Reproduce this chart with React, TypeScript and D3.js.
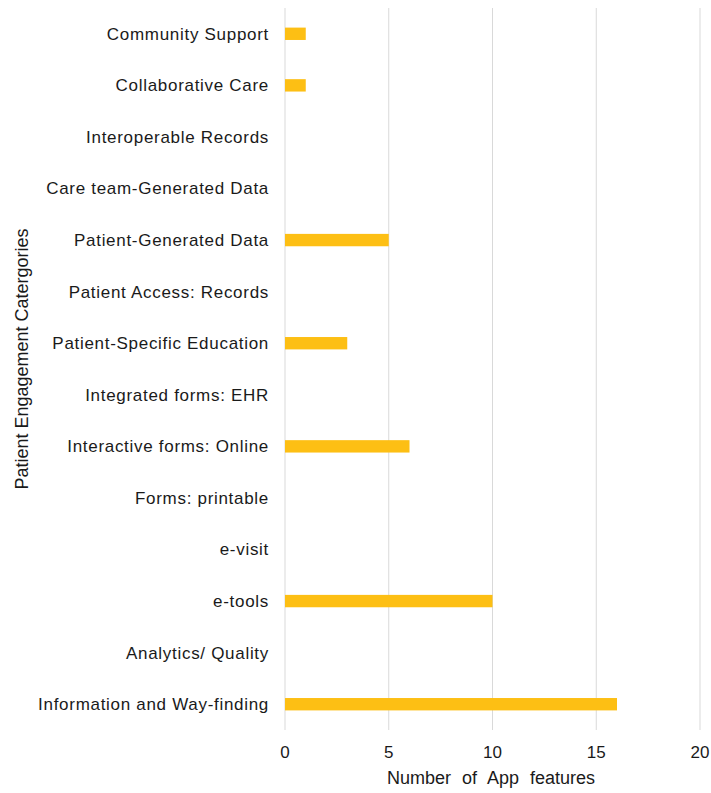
import React, { useEffect, useRef } from "react";
import * as d3 from "d3";

// categories, top to bottom
const categories = [
  "Community Support",
  "Collaborative Care",
  "Interoperable Records",
  "Care team-Generated Data",
  "Patient-Generated Data",
  "Patient Access: Records",
  "Patient-Specific Education",
  "Integrated forms: EHR",
  "Interactive forms: Online",
  "Forms: printable",
  "e-visit",
  "e-tools",
  "Analytics/ Quality",
  "Information and Way-finding",
];

const featureCounts = [1, 1, 0, 0, 5, 0, 3, 0, 6, 0, 0, 10, 0, 16];

const xTicks = [0, 5, 10, 15, 20];

export default function App() {
  const ref = useRef<SVGSVGElement>(null);

  useEffect(() => {
    const svg = d3.select(ref.current);
    svg.selectAll("*").remove();

    const left = 285;
    const right = 700;
    const top = 8;
    const bottom = 730;

    const x = d3.scaleLinear().domain([0, 20]).range([left, right]);
    const y = d3
      .scaleBand()
      .domain(categories)
      .range([top, bottom])
      .paddingInner(0.76)
      .paddingOuter(0.38);

    const font = "'Liberation Sans', Arial, sans-serif";

    // gridlines
    svg
      .append("g")
      .selectAll("line")
      .data(xTicks)
      .enter()
      .append("line")
      .attr("x1", d => x(d))
      .attr("x2", d => x(d))
      .attr("y1", top)
      .attr("y2", bottom)
      .attr("stroke", "#d9d9d9")
      .attr("stroke-width", 1);

    // bars
    svg
      .append("g")
      .selectAll("rect")
      .data(categories)
      .enter()
      .append("rect")
      .attr("x", x(0))
      .attr("y", d => y(d)!)
      .attr("width", (d, i) => x(featureCounts[i]) - x(0))
      .attr("height", y.bandwidth())
      .attr("fill", "#FDBF14");

    // category labels
    svg
      .append("g")
      .selectAll("text")
      .data(categories)
      .enter()
      .append("text")
      .attr("x", left - 16)
      .attr("y", d => y(d)! + y.bandwidth() / 2)
      .attr("dy", "0.35em")
      .attr("text-anchor", "end")
      .style("font-family", font)
      .style("font-size", "17px")
      .style("letter-spacing", "0.7px")
      .attr("fill", "#1a1a1a")
      .text(d => d);

    // x tick labels
    svg
      .append("g")
      .selectAll("text")
      .data(xTicks)
      .enter()
      .append("text")
      .attr("x", d => x(d))
      .attr("y", 752)
      .attr("dy", "0.35em")
      .attr("text-anchor", "middle")
      .style("font-family", font)
      .style("font-size", "17px")
      .attr("fill", "#1a1a1a")
      .text(d => d);

    // axis titles
    svg
      .append("text")
      .attr("x", 491)
      .attr("y", 778)
      .attr("dy", "0.35em")
      .attr("text-anchor", "middle")
      .style("font-family", font)
      .style("font-size", "18px")
      .style("word-spacing", "6px")
      .attr("fill", "#1a1a1a")
      .text("Number of App features");

    svg
      .append("text")
      .attr("transform", "translate(22,359) rotate(-90)")
      .attr("dy", "0.35em")
      .attr("text-anchor", "middle")
      .style("font-family", font)
      .style("font-size", "18px")
      .attr("fill", "#1a1a1a")
      .text("Patient Engagement Catergories");
  }, []);

  return (
    <svg
      ref={ref}
      width={711}
      height={793}
      style={{ position: "absolute", left: 0, top: 0, background: "#fff" }}
    />
  );
}
